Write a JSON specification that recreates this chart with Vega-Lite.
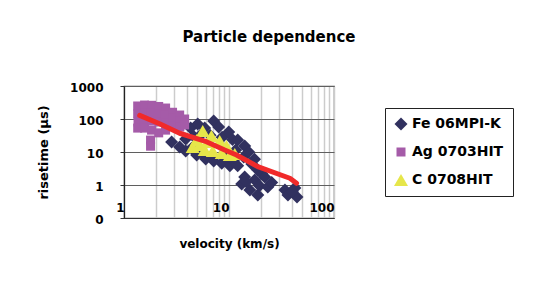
{
  "$schema": "https://vega.github.io/schema/vega-lite/v6.json",
  "width": 210,
  "height": 132,
  "autosize": {"type": "none"},
  "padding": {"left": 124, "top": 86, "right": 199, "bottom": 68},
  "background": "white",
  "title": {
    "text": "Particle dependence",
    "anchor": "middle",
    "frame": "group",
    "dx": 40,
    "offset": 24,
    "baseline": "alphabetic",
    "font": "DejaVu Sans",
    "fontSize": 15,
    "fontWeight": "bold",
    "color": "black"
  },
  "datasets": {
    "pts": [
      {"series": "Fe 06MPI-K", "v": 2.84, "r": 20.1},
      {"series": "Fe 06MPI-K", "v": 3.39, "r": 14.2},
      {"series": "Fe 06MPI-K", "v": 3.87, "r": 24.8},
      {"series": "Fe 06MPI-K", "v": 4.31, "r": 53.4},
      {"series": "Fe 06MPI-K", "v": 4.6, "r": 30},
      {"series": "Fe 06MPI-K", "v": 5.03, "r": 70.5},
      {"series": "Fe 06MPI-K", "v": 5.5, "r": 36},
      {"series": "Fe 06MPI-K", "v": 5.87, "r": 53.4},
      {"series": "Fe 06MPI-K", "v": 6.6, "r": 32},
      {"series": "Fe 06MPI-K", "v": 7.15, "r": 87.0},
      {"series": "Fe 06MPI-K", "v": 7.98, "r": 57.2},
      {"series": "Fe 06MPI-K", "v": 8.6, "r": 28},
      {"series": "Fe 06MPI-K", "v": 9.94, "r": 40.4},
      {"series": "Fe 06MPI-K", "v": 10.8, "r": 24},
      {"series": "Fe 06MPI-K", "v": 12.1, "r": 23.1},
      {"series": "Fe 06MPI-K", "v": 14.1, "r": 15.2},
      {"series": "Fe 06MPI-K", "v": 3.87, "r": 10.7},
      {"series": "Fe 06MPI-K", "v": 4.4, "r": 13},
      {"series": "Fe 06MPI-K", "v": 4.92, "r": 8.1},
      {"series": "Fe 06MPI-K", "v": 5.5, "r": 9.5},
      {"series": "Fe 06MPI-K", "v": 6.0, "r": 6.1},
      {"series": "Fe 06MPI-K", "v": 6.8, "r": 7.5},
      {"series": "Fe 06MPI-K", "v": 7.15, "r": 5.3},
      {"series": "Fe 06MPI-K", "v": 8.53, "r": 4.6},
      {"series": "Fe 06MPI-K", "v": 9.3, "r": 6.5},
      {"series": "Fe 06MPI-K", "v": 10.2, "r": 3.8},
      {"series": "Fe 06MPI-K", "v": 11.0, "r": 5.5},
      {"series": "Fe 06MPI-K", "v": 12.1, "r": 3.8},
      {"series": "Fe 06MPI-K", "v": 13.8, "r": 7.0},
      {"series": "Fe 06MPI-K", "v": 15.4, "r": 10.0},
      {"series": "Fe 06MPI-K", "v": 16.5, "r": 4.3},
      {"series": "Fe 06MPI-K", "v": 17.5, "r": 6.0},
      {"series": "Fe 06MPI-K", "v": 18.8, "r": 2.85},
      {"series": "Fe 06MPI-K", "v": 20.5, "r": 2.2},
      {"series": "Fe 06MPI-K", "v": 14.1, "r": 1.75},
      {"series": "Fe 06MPI-K", "v": 17.6, "r": 1.42},
      {"series": "Fe 06MPI-K", "v": 21.9, "r": 1.75},
      {"series": "Fe 06MPI-K", "v": 15.8, "r": 0.7},
      {"series": "Fe 06MPI-K", "v": 18.8, "r": 0.5},
      {"series": "Fe 06MPI-K", "v": 19.5, "r": 0.95},
      {"series": "Fe 06MPI-K", "v": 23.4, "r": 0.87},
      {"series": "Fe 06MPI-K", "v": 25.5, "r": 1.2},
      {"series": "Fe 06MPI-K", "v": 34.1, "r": 0.7},
      {"series": "Fe 06MPI-K", "v": 42.4, "r": 0.81},
      {"series": "Fe 06MPI-K", "v": 44.4, "r": 0.43},
      {"series": "Fe 06MPI-K", "v": 36.4, "r": 0.5},
      {"series": "Fe 06MPI-K", "v": 40.0, "r": 0.62},
      {"series": "Fe 06MPI-K", "v": 13.2, "r": 1.07},
      {"series": "Fe 06MPI-K", "v": 14.6, "r": 1.25},
      {"series": "Fe 06MPI-K", "v": 11.6, "r": 11.5},
      {"series": "Ag 0703HIT", "v": 1.35, "r": 248},
      {"series": "Ag 0703HIT", "v": 1.35, "r": 142},
      {"series": "Ag 0703HIT", "v": 1.36, "r": 81},
      {"series": "Ag 0703HIT", "v": 1.35, "r": 53},
      {"series": "Ag 0703HIT", "v": 1.57, "r": 265},
      {"series": "Ag 0703HIT", "v": 1.58, "r": 152},
      {"series": "Ag 0703HIT", "v": 1.56, "r": 87},
      {"series": "Ag 0703HIT", "v": 1.57, "r": 53},
      {"series": "Ag 0703HIT", "v": 1.83, "r": 260},
      {"series": "Ag 0703HIT", "v": 1.82, "r": 152},
      {"series": "Ag 0703HIT", "v": 1.84, "r": 87},
      {"series": "Ag 0703HIT", "v": 1.83, "r": 46},
      {"series": "Ag 0703HIT", "v": 1.79, "r": 23},
      {"series": "Ag 0703HIT", "v": 1.79, "r": 15},
      {"series": "Ag 0703HIT", "v": 2.14, "r": 240},
      {"series": "Ag 0703HIT", "v": 2.13, "r": 142},
      {"series": "Ag 0703HIT", "v": 2.15, "r": 81},
      {"series": "Ag 0703HIT", "v": 2.14, "r": 38},
      {"series": "Ag 0703HIT", "v": 2.49, "r": 215},
      {"series": "Ag 0703HIT", "v": 2.48, "r": 132},
      {"series": "Ag 0703HIT", "v": 2.5, "r": 76},
      {"series": "Ag 0703HIT", "v": 2.49, "r": 46},
      {"series": "Ag 0703HIT", "v": 2.9, "r": 160},
      {"series": "Ag 0703HIT", "v": 2.91, "r": 107},
      {"series": "Ag 0703HIT", "v": 2.9, "r": 61},
      {"series": "Ag 0703HIT", "v": 3.39, "r": 132},
      {"series": "Ag 0703HIT", "v": 3.38, "r": 87},
      {"series": "Ag 0703HIT", "v": 3.4, "r": 57},
      {"series": "Ag 0703HIT", "v": 3.78, "r": 100},
      {"series": "Ag 0703HIT", "v": 3.78, "r": 66},
      {"series": "C 0708HIT", "v": 5.62, "r": 43.1},
      {"series": "C 0708HIT", "v": 6.8, "r": 30.5},
      {"series": "C 0708HIT", "v": 8.16, "r": 21.5},
      {"series": "C 0708HIT", "v": 9.46, "r": 15.2},
      {"series": "C 0708HIT", "v": 11.35, "r": 8.7},
      {"series": "C 0708HIT", "v": 4.51, "r": 14.2},
      {"series": "C 0708HIT", "v": 5.26, "r": 16.3},
      {"series": "C 0708HIT", "v": 4.92, "r": 23.1},
      {"series": "C 0708HIT", "v": 5.87, "r": 11.5},
      {"series": "C 0708HIT", "v": 6.27, "r": 20.1},
      {"series": "C 0708HIT", "v": 7.0, "r": 10.7},
      {"series": "C 0708HIT", "v": 8.53, "r": 9.3},
      {"series": "C 0708HIT", "v": 10.17, "r": 8.1}
    ],
    "trend": [
      {"v": 1.41, "r": 129},
      {"v": 2.18, "r": 72},
      {"v": 3.39, "r": 37},
      {"v": 6.09, "r": 20.5},
      {"v": 9.1, "r": 11.5},
      {"v": 11.8, "r": 8.1},
      {"v": 18.8, "r": 3.6},
      {"v": 38, "r": 1.6},
      {"v": 44, "r": 1.13}
    ]
  },
  "encoding": {
    "x": {
      "field": "v",
      "type": "quantitative",
      "scale": {"type": "log", "domain": [1, 100], "nice": false},
      "axis": {
        "title": "velocity (km/s)",
        "values": [1, 2, 3, 4, 5, 6, 7, 8, 9, 10, 20, 30, 40, 50, 60, 70, 80, 90, 100],
        "format": "d",
        "labelExpr": "(datum.value == 1 || datum.value == 10 || datum.value == 100) ? datum.label : ''",
        "labelOverlap": false,
        "labelFlush": false,
        "labelAlign": "right",
        "labelBaseline": "middle",
        "labelPadding": -11,
        "ticks": false,
        "tickSize": 0,
        "grid": true,
        "gridColor": "#cccccc",
        "gridWidth": 1.5,
        "domainColor": "#333333",
        "domainWidth": 1.2,
        "titlePadding": 20
      }
    },
    "y": {
      "field": "r",
      "type": "quantitative",
      "scale": {"type": "log", "domain": [0.1, 1000], "nice": false},
      "axis": {
        "title": "risetime (μs)",
        "values": [0.1, 1, 10, 100, 1000],
        "format": "d",
        "labelBaseline": "middle",
        "labelOffset": 1,
        "labelPadding": 17,
        "ticks": true,
        "tickSize": 4,
        "tickColor": "#333333",
        "grid": true,
        "gridColor": "#5f5f5f",
        "gridWidth": 1.2,
        "domainColor": "#222222",
        "domainWidth": 1.2,
        "titlePadding": 19,
        "titleFontSize": 13
      }
    }
  },
  "layer": [
    {
      "data": {"name": "pts"},
      "mark": {"type": "point", "filled": true, "opacity": 1, "strokeWidth": 0},
      "encoding": {
        "color": {
          "field": "series",
          "type": "nominal",
          "scale": {"domain": ["Fe 06MPI-K", "Ag 0703HIT", "C 0708HIT"], "range": ["#31315f", "#a55ba8", "#e6e64a"]},
          "legend": {
            "title": null,
            "orient": "none",
            "legendX": 261,
            "legendY": 22,
            "strokeColor": "#222222",
            "fillColor": "white",
            "padding": 9,
            "rowPadding": 14,
            "labelFont": "DejaVu Sans",
            "labelFontSize": 14,
            "labelFontWeight": "bold",
            "labelColor": "black",
            "labelOffset": 4,
            "symbolStrokeWidth": 0
          }
        },
        "shape": {
          "field": "series",
          "type": "nominal",
          "scale": {"domain": ["Fe 06MPI-K", "Ag 0703HIT", "C 0708HIT"], "range": ["diamond", "square", "triangle-up"]}
        },
        "size": {
          "field": "series",
          "type": "nominal",
          "scale": {"type": "ordinal", "domain": ["Fe 06MPI-K", "Ag 0703HIT", "C 0708HIT"], "range": [169, 81, 196]}
        }
      }
    },
    {
      "data": {"name": "trend"},
      "mark": {"type": "line", "color": "#f02a2a", "strokeWidth": 5, "strokeCap": "round", "strokeJoin": "round"},
      "encoding": {}
    }
  ],
  "config": {
    "font": "DejaVu Sans",
    "view": {"stroke": "#555555", "strokeWidth": 1.2},
    "axis": {
      "labelFont": "DejaVu Sans",
      "labelFontSize": 12,
      "labelFontWeight": "bold",
      "labelColor": "black",
      "titleFont": "DejaVu Sans",
      "titleFontSize": 12,
      "titleFontWeight": "bold",
      "titleColor": "black"
    }
  }
}
